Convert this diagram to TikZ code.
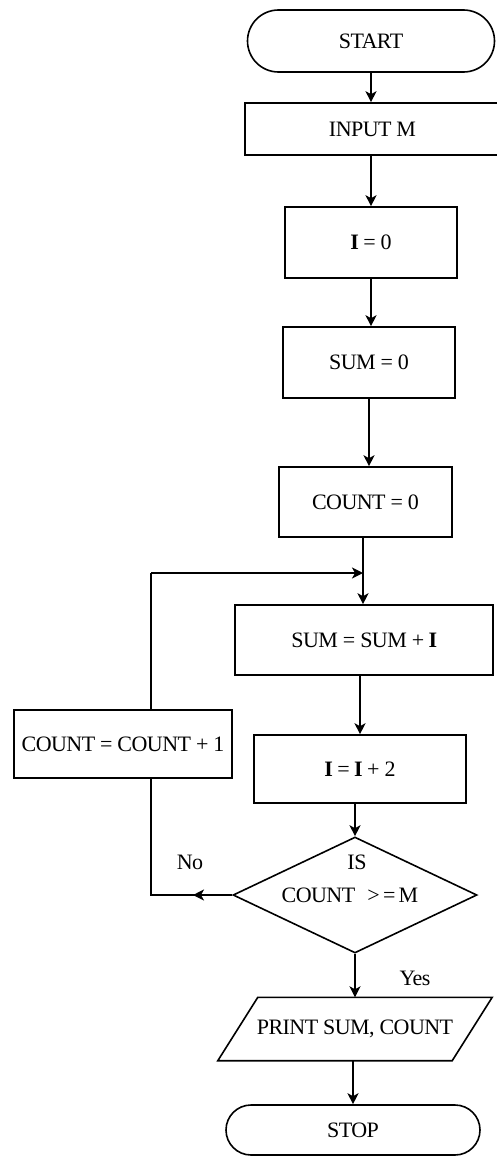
\documentclass[tikz,border=0pt]{standalone}
\usepackage{fontspec}
\setmainfont{Liberation Serif}[LetterSpace=-2.5]
\usetikzlibrary{arrows.meta,shapes.geometric}
\begin{document}
\begin{tikzpicture}[x=1pt,y=-1pt,
  every node/.style={font=\fontsize{22}{26}\selectfont, inner sep=0pt},
  outline/.style={draw, line width=1.6pt},
  procbox/.style={outline, rectangle},
  terminal/.style={outline, rectangle, rounded corners=#1},
  decision/.style={outline, diamond},
  flow/.style={line width=1.6pt, -{Stealth[length=11pt,width=11pt,inset=3pt]}},
  plain/.style={line width=1.6pt}]
  \useasboundingbox (0,0) rectangle (496,1156);
  \fill[white] (0,0) rectangle (496,1156);

  % main column
  \node[terminal=31pt, minimum width=247, minimum height=62] (start) at (371,41) {START};
  \node[procbox, minimum width=255, minimum height=52] (input) at (372.5,129) {INPUT M};
  \node[procbox, minimum width=172, minimum height=71] (i0) at (371,242.5) {\textbf{I} = 0};
  \node[procbox, minimum width=172, minimum height=71] (sum0) at (369,362.5) {SUM = 0};
  \node[procbox, minimum width=173, minimum height=70] (count0) at (365.5,502) {COUNT = 0};
  \node[procbox, minimum width=258, minimum height=70] (sumI) at (364,640) {SUM = SUM + \textbf{I}};
  \node[procbox, minimum width=212, minimum height=68] (i2) at (360,769) {\textbf{I} = \textbf{I} + 2};
  \node[decision, minimum width=244, minimum height=116] (dec) at (355,895) {};
  \node (decq) at (357,862) {IS};
  \node (decc) at (350,895) {COUNT\hspace{0.55em}>\hspace{0.15em}=\hspace{0.15em}M};
  \node[minimum width=234, minimum height=63] (print) at (355,1029) {PRINT SUM, COUNT};
  \draw[outline] ([xshift=20pt]print.north west) -- ([xshift=20pt]print.north east)
    -- ([xshift=-20pt]print.south east) -- ([xshift=-20pt]print.south west) -- cycle;
  \node[terminal=25pt, minimum width=254, minimum height=50] (stop) at (353,1130) {STOP};

  % loop body
  \node[procbox, minimum width=218, minimum height=68] (countinc) at (123,744) {COUNT = COUNT + 1};
  \coordinate (join) at (363,573);
  \coordinate (loopup) at (151,573);
  \coordinate (nocorner) at (151,895);
  \coordinate (notip) at (193,895);

  % labels
  \node (nolabel) at (190,862) {No};
  \node (yeslabel) at (415,978) {Yes};

  % connectors
  \draw[flow] (start.south) -- (input.north -| start.south);
  \draw[flow] (input.south -| i0.north) -- (i0.north);
  \draw[flow] (i0.south) -- (sum0.north -| i0.south);
  \draw[flow] (sum0.south) -- (count0.north -| sum0.south);
  \draw[plain] (count0.south -| join) -- (join);
  \draw[flow] (join) -- (sumI.north -| join);
  \draw[flow] (sumI.south -| i2.north) -- (i2.north);
  \draw[flow] (i2.south -| dec.north) -- (dec.north);
  \draw[flow] (dec.south) -- (print.north -| dec.south);
  \draw[flow] (print.south -| stop.north) -- (stop.north);

  % "No" branch back into the loop
  \draw[flow] (dec.west) -- (notip);
  \draw[plain] (dec.west) -- (nocorner) -- (countinc.south -| nocorner);
  \draw[plain] (countinc.north -| loopup) -- (loopup);
  \draw[flow] (loopup) -- (join);
\end{tikzpicture}
\end{document}
